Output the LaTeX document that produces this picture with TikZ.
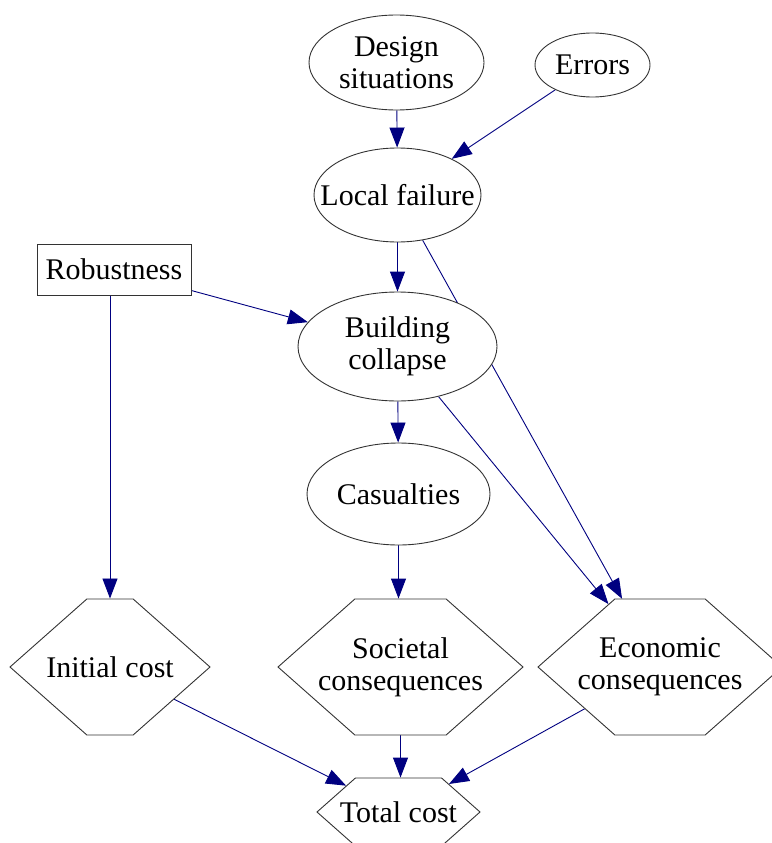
\documentclass[tikz,border=0pt]{standalone}
\usepackage{fontspec}
\setmainfont{Liberation Serif}
\usetikzlibrary{shapes.geometric,shapes.symbols,arrows.meta,backgrounds}
\definecolor{navyc}{RGB}{0,0,128}
\begin{document}
\begin{tikzpicture}[x=1pt,y=-1pt,
  shp/.style={draw=black!80, line width=0.9pt, fill=white, inner sep=0pt},
  ell/.style={shp, ellipse},
  box/.style={shp, rectangle},
  hex/.style={shp, signal, signal to=east and west, signal pointer angle=83},
  lbl/.style={font=\fontsize{30}{32}\selectfont, align=center, inner sep=0pt},
  link/.style={draw=navyc, line width=0.9pt, -{Triangle[length=20pt,width=15pt]}},
  plain/.style={draw=navyc, line width=0.9pt}
]
\useasboundingbox (0,0) rectangle (771,843);
% shapes
\node[ell, minimum width=175pt, minimum height=95pt] (des) at (396.5,62.5) {};
\node[ell, minimum width=115pt, minimum height=64pt] (err) at (592.5,65) {};
\node[ell, minimum width=167pt, minimum height=94pt] (lf) at (397.5,195) {};
\node[box, minimum width=154pt, minimum height=51pt] (rob) at (114,269.5) {};
\node[ell, minimum width=199pt, minimum height=109pt] (bc) at (397.5,346.5) {};
\node[ell, minimum width=183pt, minimum height=102pt] (cas) at (398.5,494) {};
\node[hex, minimum width=200pt, minimum height=136pt] (ic) at (110,667) {};
\node[hex, minimum width=245pt, minimum height=136pt] (soc) at (400.5,667) {};
\node[hex, minimum width=244pt, minimum height=136pt] (eco) at (660,667) {};
\node[hex, minimum width=163pt, minimum height=68pt] (tot) at (398.5,812) {};
% labels
\node[lbl] (des-t) at (des) {Design\\situations};
\node[lbl] (err-t) at (err) {Errors};
\node[lbl] (lf-t) at (lf) {Local failure};
\node[lbl] (rob-t) at (rob) {Robustness};
\node[lbl] (bc-t) at (bc) {Building\\collapse};
\node[lbl] (cas-t) at (cas) {Casualties};
\node[lbl] (ic-t) at (ic) {Initial cost};
\node[lbl] (soc-t) at (soc) {Societal\\consequences};
\node[lbl] (eco-t) at (eco) {Economic\\consequences};
\node[lbl] (tot-t) at (tot) {Total cost};
% connectors
\begin{pgfonlayer}{background}
\draw[link] (des) -- (lf);
\draw[link] (err) -- (lf);
\draw[link] (lf) -- (bc);
\draw[link] (rob) -- (bc);
\draw[link] (rob.south -| ic) -- (ic);
\draw[link] (lf) -- (eco);
\draw[link] (bc) -- (eco);
\draw[link] (bc) -- (cas);
\draw[link] (cas) -- (cas |- soc.north);
\draw[link] (ic) -- (tot);
\draw[link] (soc) -- (soc |- tot.north);
\draw[link] (eco) -- (tot);
\end{pgfonlayer}
\end{tikzpicture}
\end{document}
